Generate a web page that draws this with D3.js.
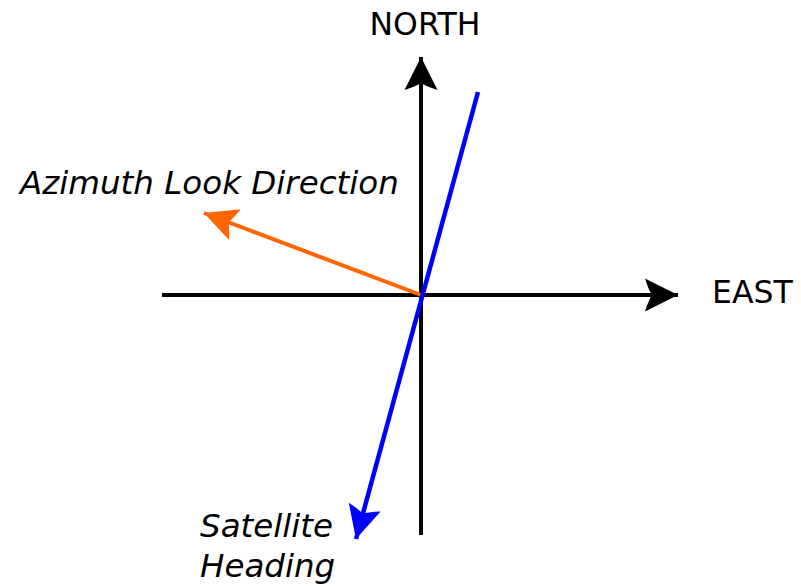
<html>

<head>
    <style>
        body { margin: 0; background: #fff; }
        text { font-family: "DejaVu Sans", sans-serif; fill: #000; }
    </style>
</head>

<body>
    <div></div>
    <script src="https://d3js.org/d3.v7.min.js"></script>
    <script>
        // vectors in east/north units, origin at the crossing of the axes
        var vectorNames = ["north", "east", "look", "heading"];
        var startEast = [0, -259, 0, 57];
        var startNorth = [-240, 0, 0, 203];
        var endEast = [0, 257, -217, -65];
        var endNorth = [238, 0, 82, -244];
        var vectorColors = ["#000000", "#000000", "#ff6600", "#0000ff"];
        var labelLines = [["NORTH"], ["EAST"], ["Azimuth Look Direction"], ["Satellite", "Heading"]];

        var width = 801,
            height = 588;

        var vectors = vectorNames.map(function (n, i) {
            return {
                name: n,
                x1: startEast[i], y1: startNorth[i],
                x2: endEast[i], y2: endNorth[i],
                color: vectorColors[i],
                label: labelLines[i]
            };
        });

        var x = d3.scaleLinear().domain([-421, 380]).range([0, width]);
        var y = d3.scaleLinear().domain([295, -293]).range([0, height]);

        var svg = d3.select("body")
            .append("svg")
            .attr("width", width)
            .attr("height", height);

        // notched arrow heads, one per colour
        var defs = svg.append("defs");
        defs.selectAll("marker")
            .data(vectors)
            .enter().append("marker")
            .attr("id", function (d) { return "head-" + d.name; })
            .attr("markerUnits", "userSpaceOnUse")
            .attr("viewBox", "-34 -18 36 36")
            .attr("markerWidth", 36)
            .attr("markerHeight", 36)
            .attr("refX", 0)
            .attr("refY", 0)
            .attr("orient", "auto")
            .append("path")
            .attr("d", "M0,0 L-33,-16.5 Q-29,-4 -26,0 Q-29,4 -33,16.5 Z")
            .attr("fill", function (d) { return d.color; });

        svg.append("g")
            .selectAll("line")
            .data(vectors)
            .enter().append("line")
            .attr("x1", function (d) { return x(d.x1); })
            .attr("y1", function (d) { return y(d.y1); })
            .attr("x2", function (d) { return x(d.x2); })
            .attr("y2", function (d) { return y(d.y2); })
            .attr("stroke", function (d) { return d.color; })
            .attr("stroke-width", function (d) { return d.name == "heading" ? 4.5 : 4; })
            .attr("marker-end", function (d) { return "url(#head-" + d.name + ")"; });

        // label placement relative to each arrow tip
        var labelPos = {
            north: { dx: 4, dy: -22, anchor: "middle", italic: false },
            east: { dx: 34, dy: 8, anchor: "start", italic: false },
            look: { dx: -184, dy: -19, anchor: "start", italic: true },
            heading: { dx: -156, dy: -2, anchor: "start", italic: true }
        };

        var labels = svg.append("g")
            .selectAll("text")
            .data(vectors)
            .enter().append("text")
            .attr("x", function (d) { return x(d.x2) + labelPos[d.name].dx; })
            .attr("y", function (d) { return y(d.y2) + labelPos[d.name].dy; })
            .attr("text-anchor", function (d) { return labelPos[d.name].anchor; })
            .attr("font-size", function (d) { return labelPos[d.name].italic ? 32.5 : 31.5; })
            .attr("font-style", function (d) { return labelPos[d.name].italic ? "oblique" : "normal"; });

        labels.selectAll("tspan")
            .data(function (d) {
                return d.label.map(function (t) { return { t: t, x: x(d.x2) + labelPos[d.name].dx }; });
            })
            .enter().append("tspan")
            .attr("x", function (d) { return d.x; })
            .attr("dy", function (d, i) { return i ? 40 : 0; })
            .text(function (d) { return d.t; });
    </script>
</body>

</html>
